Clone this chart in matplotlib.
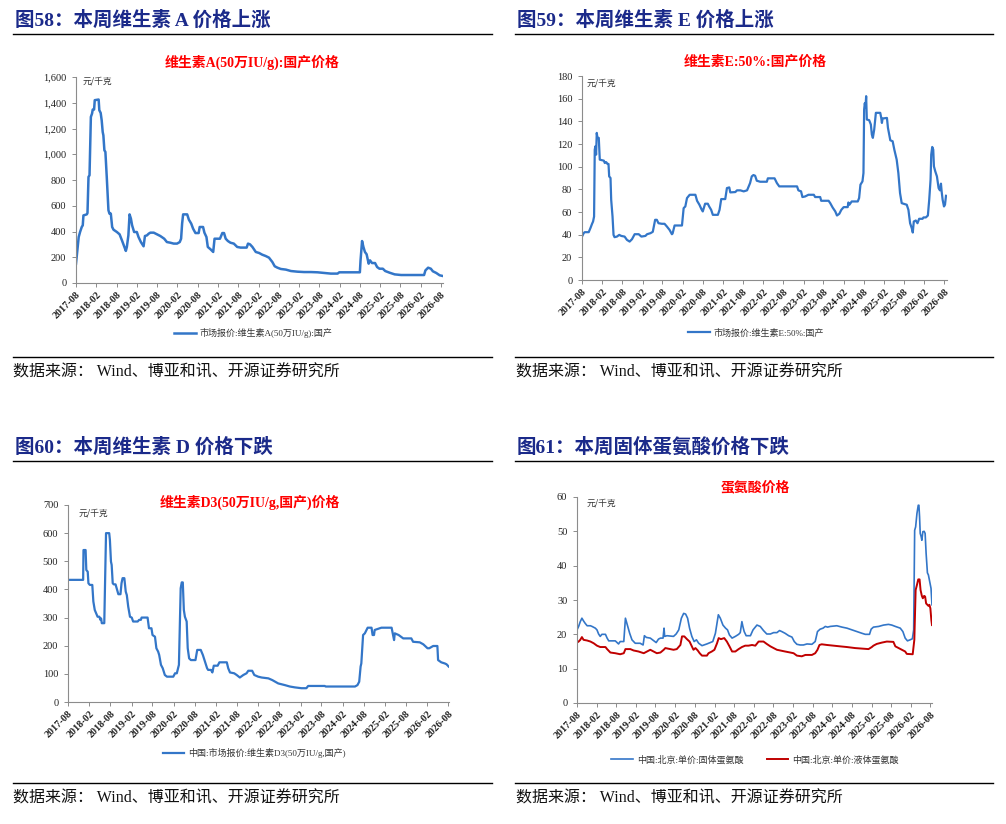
import numpy as np
import pandas as pd
import matplotlib
matplotlib.use("Agg")
import matplotlib.pyplot as plt
import matplotlib.ticker as mticker
from matplotlib.lines import Line2D

plt.rcParams['font.family'] = ['Noto Sans CJK SC', 'DejaVu Sans']
MIX = ['Liberation Serif', 'Noto Sans CJK SC', 'DejaVu Sans']

# ---------------- data (x = months since 2017-08-01) ----------------
START = "2017-08-01"
tick_labels = ["2017-08", "2018-02", "2018-08", "2019-02", "2019-08", "2020-02", "2020-08",
               "2021-02", "2021-08", "2022-02", "2022-08", "2023-02", "2023-08", "2024-02",
               "2024-08", "2025-02", "2025-08", "2026-02", "2026-08"]

# Vitamin A (50万IU/g) domestic price, 元/千克
va_month = [0, 0.4, 0.8, 1.2, 1.7, 2.0, 2.2, 3.2, 3.4, 3.7, 4.0, 4.4, 4.75, 4.95, 5.35, 5.55,
            6.7, 6.9, 7.3, 7.6, 7.9, 8.1, 8.4, 8.7, 9.1, 9.6, 9.9, 10.3, 10.7, 11.1, 12.1,
            12.9, 13.6, 14.3, 14.75, 15.05, 15.5, 15.85, 16.25, 16.6, 17.2, 18.0, 18.5, 19.2,
            20.0, 20.4, 21.0, 21.5, 22.0, 23.0, 24.0, 24.95, 26.1, 26.9, 27.9, 28.9, 29.9,
            30.7, 31.1, 31.4, 31.7, 32.9, 33.4, 34.1, 34.65, 35.35, 36.3, 36.6, 37.6, 38.0,
            38.6, 39.0, 39.8, 40.6, 41.0, 42.6, 43.3, 43.8, 44.3, 44.95, 45.7, 46.7, 47.7,
            48.7, 50.5, 50.9, 51.5, 52.2, 53.2, 54.2, 55.1, 56.1, 57.1, 58.1, 58.8, 59.6,
            60.6, 62.1, 63.6, 65.5, 67.5, 69.5, 71.5, 73.5, 75.4, 77.4, 77.9, 84.0, 84.2,
            84.65, 85.05, 85.5, 86.0, 86.6, 87.0, 87.6, 88.5, 89.1, 89.8, 90.8, 91.5, 92.8,
            94.3, 96.2, 103.0, 103.4, 104.2, 105.0, 105.6, 106.6, 107.6, 108.6]
va_value = [150, 254, 357, 396, 435, 448, 525, 533, 544, 824, 837, 1290, 1316, 1347, 1347, 1420,
            1425, 1342, 1321, 1264, 1173, 1147, 1031, 1018, 824, 565, 539, 539, 435, 414, 396,
            378, 331, 280, 249, 280, 370, 533, 500, 448, 396, 396, 357, 318,
            285, 365, 370, 383, 391, 391, 378, 365, 344, 318, 313, 306, 306,
            318, 344, 461, 533, 533, 492, 461, 422, 388, 388, 435, 435, 391,
            357, 280, 262, 241, 344, 344, 388, 388, 344, 326, 313, 306, 280,
            275, 275, 306, 300, 280, 241, 233, 220, 210, 197, 163, 130, 119,
            109, 104, 93, 88, 85, 85, 83, 78, 73, 73, 83, 83, 176,
            326, 280, 241, 223, 150, 176, 155, 155, 124, 111, 111, 93, 80,
            67, 62, 62, 98, 119, 111, 91, 78, 60, 54]

# Vitamin E 50% domestic price, 元/千克
ve_month = [0.0, 0.5, 0.8, 2.0, 2.5, 3.0, 3.3, 3.6, 3.8, 4.0, 4.2, 4.4, 4.6, 5.0, 5.3, 6.5, 6.8,
            7.2, 7.6, 7.9, 8.1, 8.5, 8.7, 9.1, 9.4, 9.7, 10.4, 11.1, 11.7, 12.7, 13.4, 14.2,
            14.9, 15.7, 16.9, 17.7, 18.9, 19.4, 20.4, 21.1, 21.4, 21.8, 22.3, 22.8, 23.8,
            24.6, 25.3, 26.1, 26.8, 27.0, 27.6, 29.8, 30.3, 30.8, 31.3, 32.1, 33.8, 34.3,
            35.0, 35.6, 36.0, 36.3, 36.7, 37.5, 37.9, 38.5, 39.0, 40.5, 41.0, 41.5, 42.7,
            43.2, 43.9, 44.2, 45.7, 46.2, 47.2, 48.2, 49.2, 49.7, 50.1, 50.6, 51.1, 51.6,
            52.1, 53.1, 55.1, 55.4, 57.4, 58.1, 58.8, 64.1, 64.5, 65.3, 65.7, 66.5, 67.5,
            69.1, 69.5, 71.0, 71.3, 73.5, 74.0, 74.7, 75.5, 76.0, 76.7, 77.3, 78.0, 79.2,
            79.4, 79.7, 80.4, 82.2, 82.6, 83.0, 83.6, 83.9, 84.1, 84.3, 84.5, 84.7, 84.9,
            85.6, 86.1, 86.4, 86.7, 87.1, 87.6, 88.9, 89.2, 89.4, 89.6, 90.9, 91.2, 91.9,
            92.6, 93.1, 93.8, 94.3, 94.8, 95.3, 95.8, 96.8, 97.3, 97.8, 98.3, 98.6, 98.9,
            99.5, 100.0, 100.5, 101.5, 101.8, 102.5, 103.1, 103.5, 103.9, 104.1, 104.4,
            104.7, 104.9, 105.3, 105.8, 106.3, 106.7, 107.0, 107.2, 107.5, 107.9, 108.2, 108.5]
ve_value = [38.3, 41.3, 42.2, 42.2, 45.7, 49.6, 51.6, 56, 115, 118, 110.6, 129.8, 125.4, 125.4,
            106.2, 105.3, 103.2, 104, 102.4, 102.4, 91.4, 90, 70.8, 56, 39.8, 37.8, 38.3, 39.8,
            38.9, 38.3, 35.4, 33.9, 36, 40.4, 40.4, 38.3, 38.9, 40.4, 41.3, 42.5, 47.2, 53.1,
            53.1, 50.1, 49.6, 49.6, 47.2, 44.2, 40.4, 41, 48.1, 48.1, 63.4, 64.9, 72.3, 75.2,
            75.2, 69.9, 66.4, 62.5, 60.5, 63.4, 67.3, 67.3, 64.9, 61.9, 57.5, 57.5, 61.9, 71.4,
            71.4, 81.1, 81.7, 77.3, 77.6, 79.1, 79.1, 78.2, 79.1, 82.6, 85.5, 91.4, 92.6, 92,
            87.6, 86.7, 86.7, 89.7, 89.7, 85.5, 82.6, 82.6, 79.1, 78.2, 73.2, 73.7, 75.2,
            75.2, 73.2, 73.2, 69.9, 69.9, 67.8, 64, 60.5, 56.9, 58.4, 61.9, 64.3, 64.3,
            68.4, 66.4, 69.3, 69.3, 72.3, 84.1, 87, 94.4, 150.4, 156, 152, 162.2, 141.6,
            141, 137.2, 128.3, 125.4, 132.7, 147.5, 147.5, 143, 138.6, 142.5, 143, 134.2, 123.3,
            122.4, 115, 106.2, 94.4, 76.7, 67.8, 67.3, 66.4, 61.9, 50.1, 45.7, 41.9, 51.6,
            52.5, 50.1, 54, 54, 55.2, 55.2, 56.9, 70.8, 88.5, 110.6, 117.4,
            115, 100.3, 95.9, 91.4, 81.1, 79.1, 85, 78.2, 70.8, 64.9, 66.4, 74.3]

# Vitamin D3 (50万IU/g) domestic price, 元/千克
vd_month = [0, 4.3, 4.4, 5.0, 5.2, 5.6, 5.8, 6.2, 6.9, 7.2, 7.6, 8.0, 8.4, 8.9, 9.2, 9.4, 9.6,
            10.3, 10.5, 10.8, 11.7, 11.9, 12.2, 12.4, 12.7, 13.0, 13.5, 14.3, 14.9, 15.2, 15.5,
            16.0, 16.4, 16.7, 17.1, 17.6, 18.1, 18.5, 19.8, 20.2, 20.7, 20.9, 22.6, 23.0, 23.7,
            24.0, 24.7, 25.1, 25.6, 25.9, 26.4, 26.9, 27.5, 28.1, 29.9, 30.4, 30.9, 31.5, 32.0,
            32.3, 32.6, 32.9, 33.2, 33.7, 34.0, 34.4, 34.9, 36.2, 36.7, 37.7, 38.3, 38.9, 39.5,
            39.8, 40.6, 41.0, 41.4, 42.5, 43.0, 45.1, 45.5, 46.0, 47.2, 47.9, 48.8, 49.8, 50.7,
            51.2, 52.3, 52.9, 54.0, 55.0, 56.9, 58.0, 59.7, 61.6, 63.0, 64.4, 66.3, 67.7, 68.2,
            72.9, 73.2, 81.5, 82.2, 82.7, 83.1, 83.3, 83.8, 84.3, 85.1, 86.2, 86.5, 86.9, 87.1,
            88.6, 89.0, 91.9, 92.3, 92.6, 92.8, 93.9, 95.2, 97.5, 98.0, 99.9, 100.9, 102.1,
            102.6, 103.7, 104.9, 105.1, 106.0, 107.0, 107.5, 108.1]
vd_value = [434, 434, 540, 540, 469, 463, 422, 416, 416, 357, 327, 315, 303, 303, 292, 297, 280,
            280, 404, 600, 600, 576, 499, 487, 422, 418, 418, 383, 383, 422, 440,
            440, 392, 380, 339, 303, 300, 286, 286, 292, 292, 300, 300, 262, 262,
            238, 232, 191, 179, 167, 132, 120, 96, 90, 90, 102, 102, 132, 404,
            425, 425, 327, 303, 286, 191, 155, 149, 149, 185, 185, 167, 143, 120,
            114, 114, 105, 129, 129, 141, 141, 120, 105, 102, 96, 87, 96, 102,
            111, 111, 96, 90, 87, 84, 78, 66, 60, 55, 52, 49, 49, 57,
            57, 55, 55, 60, 72, 126, 137, 238, 244, 264, 264, 238, 238, 256,
            262, 264, 264, 238, 220, 244, 238, 226, 226, 214, 212, 205, 191,
            191, 199, 199, 149, 141, 137, 134, 126]

# Methionine, Beijing unit price, 元/千克
ms_month = [0, 0.5, 1.0, 1.5, 2.0, 2.5, 3.1, 4.1, 4.6, 5.6, 6.1, 6.6, 7.1, 7.6, 8.7, 9.2, 9.7,
            11.7, 12.7, 13.2, 14.3, 14.8, 15.1, 15.5, 16.1, 16.8, 17.8, 19.3, 20.2, 20.6, 21.2,
            22.4, 23.4, 24.2, 24.9, 25.5, 26.3, 26.6, 26.8, 27.5, 29.5, 30.3, 31.1, 31.9, 32.6,
            33.2, 33.8, 34.4, 35.1, 35.8, 36.5, 37.2, 38.2, 39.7, 40.7, 41.5, 42.3, 42.8, 43.2,
            43.8, 44.6, 45.4, 46.0, 46.6, 47.4, 48.4, 49.4, 49.9, 50.4, 50.7, 51.1, 51.7, 53.0,
            53.8, 55.0, 56.0, 57.0, 58.0, 59.1, 60.1, 61.1, 61.9, 62.6, 63.6, 64.7, 65.7, 66.4,
            67.2, 68.2, 69.2, 70.3, 71.8, 72.8, 73.5, 74.3, 75.2, 75.9, 76.6, 77.4, 79.4, 81.0,
            82.5, 84.0, 85.5, 87.1, 88.1, 89.4, 89.9, 90.6, 92.2, 93.7, 95.2, 96.2, 97.3, 98.8,
            99.6, 100.3, 101.0, 101.8, 102.5, 102.9, 103.2, 103.5, 103.9, 104.3, 104.5, 104.7,
            104.9, 105.2, 105.4, 105.7, 106.1, 106.4, 106.7, 107.1, 107.4, 107.7, 108.0, 108.2,
            108.5]
ms_value = [21.3, 22.3, 23.7, 24.7, 23.9, 23.2, 22.5, 22.5, 22.3, 21.8, 21.3, 20.1, 19.4, 20.0,
            20.0, 18.9, 18.1, 18.1, 17.2, 17.9, 17.9, 24.7, 23.7, 22.3, 20.3, 18.4, 17.4, 17.4,
            16.9, 19.6, 19.1, 18.9, 18.2, 17.6, 18.6, 18.9, 18.9, 21.8, 19.4, 19.6, 19.4, 20.1,
            21.3, 24.7, 26.1, 25.9, 24.7, 21.8, 19.4, 17.9, 18.4, 17.4, 16.7, 17.2, 17.6, 17.9,
            20.3, 23.2, 25.7, 24.7, 22.7, 21.8, 21.3, 19.8, 18.9, 19.4, 20.0, 20.5, 23.7, 22.3,
            20.8, 19.6, 19.6, 21.3, 22.7, 22.3, 21.1, 20.1, 20.1, 20.5, 20.5, 21.1, 20.8, 20.3,
            19.6, 19.2, 17.9, 17.1, 16.9, 16.9, 17.2, 17.1, 17.9, 20.8, 21.5, 21.8, 22.3, 22.1,
            22.3, 22.5, 22.1, 21.8, 21.3, 20.8, 20.3, 20.0, 20.0, 21.5, 22.1, 22.3, 22.7, 22.9,
            22.7, 22.3, 21.8, 20.8, 18.9, 18.1, 18.4, 18.7, 21.3, 50.3, 51.3, 55.2, 57.6, 57.6,
            54.2, 49.4, 48.4, 47.4, 49.9, 50.0, 49.4, 43.6, 37.9, 37.3, 35.8, 34.4, 33.4, 28.6]

ml_month = [0, 0.5, 1.0, 1.5, 2.0, 3.1, 4.1, 5.1, 6.1, 7.1, 8.7, 9.2, 10.2, 11.7, 13.2, 14.3,
            14.8, 16.3, 17.3, 18.8, 20.4, 21.4, 22.4, 23.4, 24.4, 25.5, 26.5, 27.0, 28.5, 29.5,
            30.5, 31.6, 32.1, 32.8, 33.6, 34.4, 35.1, 35.6, 36.2, 36.9, 37.5, 38.2, 39.7, 40.2,
            41.2, 42.0, 42.8, 43.3, 44.0, 45.0, 45.8, 46.6, 47.4, 48.4, 49.4, 50.4, 51.4, 52.4,
            53.5, 54.5, 55.5, 57.0, 58.0, 59.1, 60.1, 61.1, 62.1, 63.6, 65.2, 66.2, 67.2, 68.7,
            69.8, 71.8, 72.8, 73.5, 74.1, 74.8, 76.4, 78.4, 80.4, 82.5, 85.0, 89.1, 90.1, 90.6,
            91.6, 93.2, 94.7, 96.7, 97.3, 98.3, 99.3, 100.3, 100.8, 102.6, 103.1, 103.5, 103.9,
            104.3, 104.7, 105.0, 105.4, 105.7, 106.1, 106.4, 106.7, 107.1, 107.4, 107.7, 108.0,
            108.3, 108.5]
ml_value = [17.6, 17.9, 18.4, 19.2, 18.4, 18.2, 17.9, 17.4, 16.7, 16.3, 16.3, 15.7, 14.7, 14.5,
            14.2, 14.5, 15.7, 15.7, 15.3, 15.0, 14.5, 15.0, 15.5, 15.0, 14.5, 14.7, 15.5, 16.0,
            15.7, 15.5, 15.7, 16.9, 19.4, 19.4, 18.6, 17.9, 16.5, 15.5, 16.0, 15.3, 14.5, 13.8,
            13.8, 14.5, 15.0, 15.5, 17.4, 18.9, 18.6, 18.9, 17.9, 16.5, 15.0, 15.0, 15.7, 16.3,
            16.7, 16.7, 16.9, 16.7, 17.9, 17.9, 17.2, 16.5, 16.0, 15.5, 15.3, 15.0, 14.7, 14.5,
            13.8, 13.6, 14.0, 14.0, 14.5, 15.5, 16.9, 17.1, 16.9, 16.7, 16.5, 16.3, 16.0, 15.7,
            16.3, 16.7, 17.2, 17.6, 17.9, 17.8, 16.5, 16.0, 15.5, 15.0, 14.3, 14.2, 18.4, 32.9,
            34.4, 36.0, 36.0, 32.9, 31.2, 30.5, 31.2, 31.0, 29.0, 28.6, 28.3, 28.6, 27.6, 24.2,
            22.7]

# ---------------- texts ----------------
headers = ["图58：本周维生素 A 价格上涨", "图59：本周维生素 E 价格上涨",
           "图60：本周维生素 D 价格下跌", "图61：本周固体蛋氨酸价格下跌"]
chart_titles = ["维生素A(50万IU/g):国产价格", "维生素E:50%:国产价格",
                "维生素D3(50万IU/g,国产)价格", "蛋氨酸价格"]
legend_labels = [["市场报价:维生素A(50万IU/g):国产"], ["市场报价:维生素E:50%:国产"],
                 ["中国:市场报价:维生素D3(50万IU/g,国产)"],
                 ["中国:北京:单价:固体蛋氨酸", "中国:北京:单价:液体蛋氨酸"]]
unit_label = "元/千克"
source_text = "数据来源： Wind、博亚和讯、开源证券研究所"

# ---------------- layout ----------------
W, H = 1006, 824
fig = plt.figure(figsize=(W / 100, H / 100), dpi=100)
BLUE = '#3376C8'
RED = '#C00000'
NAVY = '#1B2A8A'


def to_dates(months):
    return pd.Timestamp(START) + pd.to_timedelta(np.asarray(months) * 30.4375, unit='D')


def fx(x):
    return x / W


def fy(y):
    return 1 - y / H


tick_dates = pd.date_range("2017-08-01", "2026-08-01", freq="6MS")

panels = [
    dict(box=(76, 77, 443, 283), xend=108.6, ymax=1600, ystep=200, fmt='{:,.0f}',
         series=[(va_month, va_value, BLUE, 1.8)], title_xy=(252, 62), unit_xy=(83, 81),
         leg_xy=(253, 333), head_xy=(15, 20), src_xy=(13, 373), lines_y=(34, 357), lx=(13, 492)),
    dict(box=(582, 76, 947, 280), xend=108.8, ymax=180, ystep=20, fmt='{:.0f}',
         series=[(ve_month, ve_value, BLUE, 1.6)], title_xy=(755, 62), unit_xy=(587, 83),
         leg_xy=(756, 333), head_xy=(517, 20), src_xy=(516, 373), lines_y=(34, 357), lx=(515, 993)),
    dict(box=(68, 505, 449, 702), xend=108.2, ymax=700, ystep=100, fmt='{:.0f}',
         series=[(vd_month, vd_value, BLUE, 1.6)], title_xy=(250, 502), unit_xy=(79, 513),
         leg_xy=(254, 753), head_xy=(15, 447), src_xy=(13, 799), lines_y=(461, 783), lx=(13, 492)),
    dict(box=(577, 497, 932, 703), xend=108.5, ymax=60, ystep=10, fmt='{:.0f}',
         series=[(ms_month, ms_value, BLUE, 1.2), (ml_month, ml_value, RED, 1.4)],
         title_xy=(755, 487), unit_xy=(587, 503),
         leg_xy=(755, 760), head_xy=(517, 447), src_xy=(516, 799), lines_y=(461, 783), lx=(515, 993)),
]

for i, p in enumerate(panels):
    l, t, r, b = p['box']
    ax = fig.add_axes([fx(l), fy(b), fx(r) - fx(l), fy(t) - fy(b)])
    handles = []
    for months, vals, col, lw in p['series']:
        h, = ax.plot(to_dates(months), vals, color=col, lw=lw, solid_joinstyle='round')
        handles.append(h)
    ax.set_xlim(pd.Timestamp(START), to_dates([p['xend']])[0])
    ax.set_ylim(0, p['ymax'])
    ax.set_yticks(np.arange(0, p['ymax'] + 1, p['ystep']))
    ax.yaxis.set_major_formatter(mticker.FuncFormatter(lambda v, _, f=p['fmt']: f.format(v)))
    ax.set_xticks(tick_dates)
    ax.set_xticklabels(tick_labels, rotation=45, ha='right', rotation_mode='anchor',
                       family='Liberation Serif', fontsize=7.3, fontweight='bold', color='#222222')
    for lab in ax.get_yticklabels():
        lab.set_family('Liberation Serif')
        lab.set_fontsize(7.5)
        lab.set_color('#222222')
    for s in ['top', 'right']:
        ax.spines[s].set_visible(False)
    for s in ['left', 'bottom']:
        ax.spines[s].set_color('#8C8C8C')
        ax.spines[s].set_linewidth(0.8)
    ax.tick_params(axis='both', direction='out', length=3, width=0.7, color='#8C8C8C', pad=2)
    ax.tick_params(axis='y', pad=4)
    ax.patch.set_alpha(0)

    # unit label
    fig.text(fx(p['unit_xy'][0]), fy(p['unit_xy'][1]), unit_label, fontsize=6.3,
             color='#333333', va='center', ha='left')
    # red chart title
    fig.text(fx(p['title_xy'][0]), fy(p['title_xy'][1]), chart_titles[i], fontsize=10,
             fontweight='bold', color='#FF0000', ha='center', va='center', family=MIX)
    # header
    fig.text(fx(p['head_xy'][0]), fy(p['head_xy'][1]), headers[i], fontsize=14,
             fontweight='bold', color=NAVY, ha='left', va='center', family=MIX)
    # source
    fig.text(fx(p['src_xy'][0]), fy(p['src_xy'][1]), source_text, fontsize=11.5,
             color='#111111', ha='left', va='center', family=MIX)
    # separator lines
    for yy in p['lines_y']:
        fig.add_artist(Line2D([fx(p['lx'][0]), fx(p['lx'][1])], [fy(yy), fy(yy)],
                              color='black', lw=1.0, transform=fig.transFigure))
    # legend
    leg = fig.legend(handles, legend_labels[i], loc='center',
                     bbox_to_anchor=(fx(p['leg_xy'][0]), fy(p['leg_xy'][1])),
                     ncol=len(handles), frameon=False, fontsize=6.5, handlelength=2.4,
                     handletextpad=0.4, columnspacing=2.6, labelcolor='#333333',
                     prop={'family': MIX, 'size': 6.5})

fig.savefig("out.png", dpi=100, facecolor='white')
